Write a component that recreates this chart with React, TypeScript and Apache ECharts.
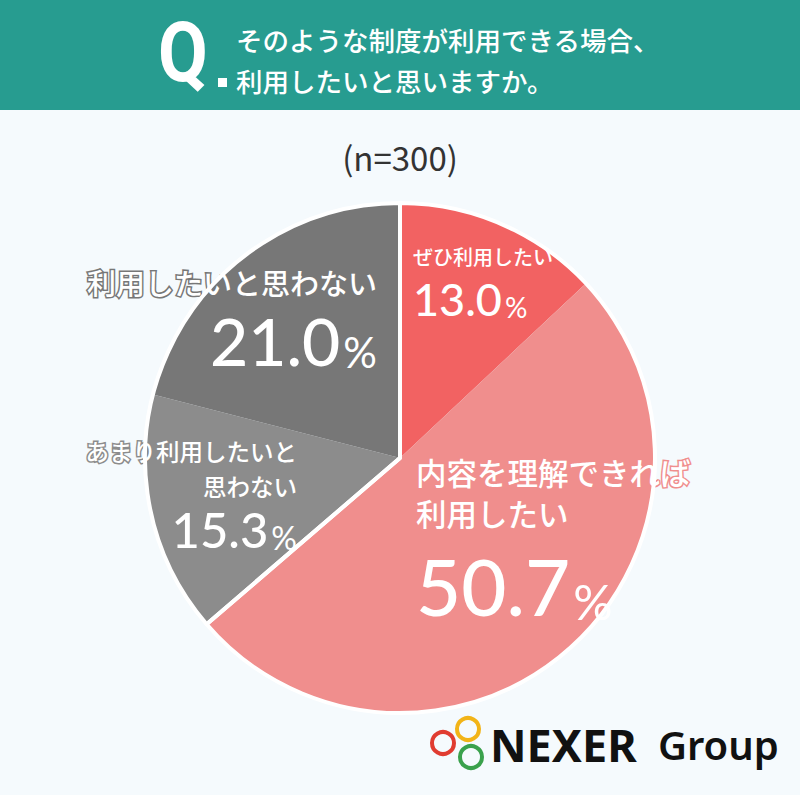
import React, { useEffect, useRef } from "react";
import * as echarts from "echarts";

const title1 = "そのような制度が利用できる場合、";
const title2 = "利用したいと思いますか。";
const sampleText = "(n=300)";
const categories = ["ぜひ利用したい", "内容を理解できれば\n利用したい", "あまり利用したいと\n思わない", "利用したいと思わない"];
const values = [13.0, 50.7, 15.3, 21.0];
const colors = ["#F26262", "#F08E8D", "#8C8C8C", "#777777"];
const groupSplit = 2; // first two = "use", last two = "not use"

const JP = '"Noto Sans CJK JP", "Noto Sans", sans-serif';
const NUM = 'Lato, "Noto Sans", sans-serif';

// layout (not data)
const labelPos = [
  { x: 413, y: 243, align: "left" },
  { x: 416, y: 451, align: "left" },
  { x: 297, y: 433, align: "right" },
  { x: 377, y: 261, align: "right" },
];
const labelSizes = [
  { s: 20, sl: 26, n: 45, nl: 52, p: 28 },
  { s: 30.5, sl: 41, n: 78, nl: 92, p: 49 },
  { s: 23.5, sl: 35, n: 49, nl: 50, p: 32 },
  { s: 29, sl: 42, n: 66, nl: 70, p: 42 },
];

export default function App() {
  const ref = useRef<HTMLDivElement>(null);
  useEffect(() => {
    document.body.style.margin = "0";
    const chart = echarts.init(ref.current!, null, { renderer: "svg" });
    const cx = 400, cy = 458, r = 255;
    const data = values.map((v, i) => {
      const sz = labelSizes[i];
      const al = labelPos[i].align;
      const tc = colors[i];
      return {
        name: categories[i],
        value: v,
        itemStyle: { color: colors[i] },
        label: {
          rich: {
            s: { fontSize: sz.s, lineHeight: sz.sl, color: "#fff", fontFamily: JP, fontWeight: 500, textBorderColor: tc, textBorderWidth: 3, align: al },
            n: { fontSize: sz.n, lineHeight: sz.nl, color: "#fff", fontFamily: NUM, fontWeight: 500, verticalAlign: "bottom", align: al },
            p: { fontSize: sz.p, lineHeight: sz.nl, color: "#fff", fontFamily: NUM, fontWeight: 400, verticalAlign: "bottom", padding: [0, 0, 0, 3], align: al },
          },
        },
      };
    });
    const agree = values.slice(0, groupSplit).reduce((a, b) => a + b, 0);
    const disagree = values.slice(groupSplit).reduce((a, b) => a + b, 0);

    chart.setOption({
      animation: false,
      backgroundColor: "#F5FAFD",
      graphic: [
        { type: "rect", left: 0, top: 0, shape: { width: 800, height: 110 }, style: { fill: "#279C90" } },
        { type: "text", x: 158, y: 10, scaleX: 0.86, style: { text: "Q", font: 'bold 84px Roboto', fill: "#fff" } },
        { type: "rect", shape: { x: 218, y: 78, width: 9, height: 9 }, style: { fill: "#fff" } },
        { type: "text", x: 236, y: 39, style: { text: title1, font: '500 26.5px "Noto Sans CJK JP"', fill: "#fff", verticalAlign: "middle" } },
        { type: "text", x: 236, y: 80, style: { text: title2, font: '500 26.5px "Noto Sans CJK JP"', fill: "#fff", verticalAlign: "middle" } },
        { type: "text", x: 400, y: 157, style: { text: sampleText, font: '400 33px "Noto Sans CJK JP"', fill: "#333", align: "center", verticalAlign: "middle" } },
        { type: "circle", shape: { cx: 443, cy: 743, r: 11 }, style: { fill: "none", stroke: "#E03C31", lineWidth: 4 } },
        { type: "circle", shape: { cx: 468, cy: 729, r: 11 }, style: { fill: "none", stroke: "#F2B418", lineWidth: 4 } },
        { type: "circle", shape: { cx: 471, cy: 757, r: 11 }, style: { fill: "none", stroke: "#3AA14C", lineWidth: 4 } },
        { type: "text", x: 490, y: 744, style: { text: "NEXER", font: 'bold 45px "Noto Sans"', fill: "#111", verticalAlign: "middle" } },
        { type: "text", x: 658, y: 744, style: { text: "Group", font: '600 40px "Noto Sans"', fill: "#111", verticalAlign: "middle" } },
      ],
      series: [
        {
          type: "pie",
          center: [cx, cy],
          radius: r,
          startAngle: 90,
          clockwise: true,
          silent: true,
          data,
          label: {
            show: true,
            position: "inside",
            formatter: (p: any) => {
              const lines = String(p.name).split("\n").map((l: string) => `{s|${l}}`).join("\n");
              return `${lines}\n{n|${p.value.toFixed(1)}}{p|%}`;
            },
          },
          labelLine: { show: false },
          labelLayout: (params: any) => {
            const lp = labelPos[params.dataIndex];
            return { x: lp.x, y: lp.y, align: lp.align, verticalAlign: "top" };
          },
          z: 2,
        },
        {
          type: "pie",
          center: [cx, cy],
          radius: r,
          startAngle: 90,
          clockwise: true,
          silent: true,
          data: [{ value: agree }, { value: disagree }],
          itemStyle: { color: "rgba(0,0,0,0)", borderColor: "#FFFFFF", borderWidth: 4 },
          label: { show: false },
          labelLine: { show: false },
          z: 3,
        },
      ],
    });
    return () => chart.dispose();
  }, []);
  return <div ref={ref} style={{ width: 800, height: 795 }} />;
}
